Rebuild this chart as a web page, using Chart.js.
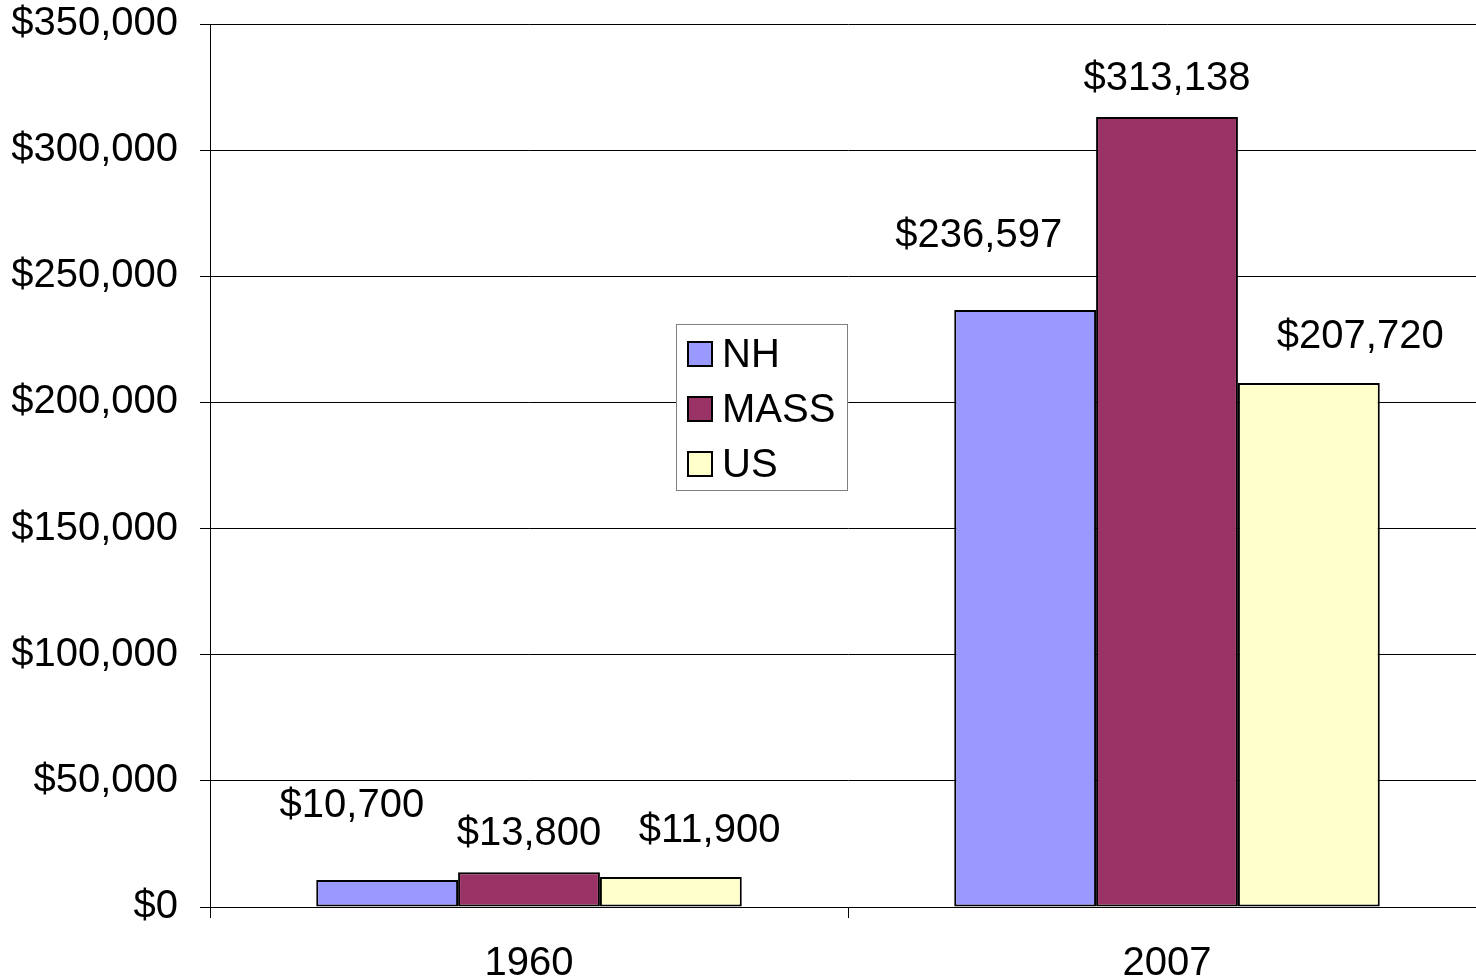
<!DOCTYPE html>
<html>
<head>
<meta charset="utf-8">
<script src="https://cdn.jsdelivr.net/npm/chart.js@4"></script>
<style>
  html, body { margin: 0; padding: 0; background: #fff; overflow: hidden; }
  #wrap { width: 1476px; height: 980px; overflow: hidden; }
</style>
</head>
<body>
<div id="wrap"><canvas id="priceChart" width="1486" height="980"></canvas></div>
<script>
const years = ["1960", "2007"];
const nhValues = [10700, 236597];
const massValues = [13800, 313138];
const usValues = [11900, 207720];
const seriesNames = ["NH", "MASS", "US"];
const seriesColors = ["#9999FF", "#993366", "#FFFFCC"];

const FONT = "'Liberation Sans', Arial, sans-serif";

function money(v) {
  return "$" + v.toLocaleString("en-US");
}

// Excel-style value labels, nudged like the original
const valueLabels = {
  id: "valueLabels",
  afterDatasetsDraw(chart, args, opts) {
    const ctx = chart.ctx;
    ctx.save();
    ctx.font = "40px " + FONT;
    ctx.fillStyle = "#000";
    ctx.textBaseline = "middle";
    chart.data.datasets.forEach((ds, i) => {
      const place = opts.place[i];
      chart.getDatasetMeta(i).data.forEach((bar, j) => {
        ctx.textAlign = place.align;
        ctx.fillText(money(ds.data[j]), bar.x + place.dx, bar.y + place.dy);
      });
    });
    ctx.restore();
  },
};

// boxed legend sitting inside the plot
const boxLegend = {
  id: "boxLegend",
  afterDraw(chart, args, opts) {
    const ctx = chart.ctx;
    ctx.save();
    ctx.fillStyle = "#fff";
    ctx.fillRect(opts.x, opts.y, opts.w, opts.h);
    ctx.strokeStyle = "#808080";
    ctx.lineWidth = 1;
    ctx.strokeRect(opts.x + 0.5, opts.y + 0.5, opts.w, opts.h);
    ctx.font = "40px " + FONT;
    ctx.textBaseline = "middle";
    ctx.textAlign = "left";
    chart.data.datasets.forEach((ds, i) => {
      const cy = opts.y + 30 + i * 55;
      ctx.fillStyle = ds.backgroundColor;
      ctx.fillRect(opts.x + 12, cy - 12, 24, 24);
      ctx.strokeStyle = "#000";
      ctx.lineWidth = 2;
      ctx.strokeRect(opts.x + 12, cy - 12, 24, 24);
      ctx.fillStyle = "#000";
      ctx.fillText(ds.label, opts.x + 46, cy + 2);
    });
    ctx.restore();
  },
};

const ctx = document.getElementById("priceChart").getContext("2d");

window.priceChart = new Chart(ctx, {
  type: "bar",
  data: {
    labels: years,
    datasets: [
      { label: seriesNames[0], data: nhValues, backgroundColor: seriesColors[0] },
      { label: seriesNames[1], data: massValues, backgroundColor: seriesColors[1] },
      { label: seriesNames[2], data: usValues, backgroundColor: seriesColors[2] },
    ].map((d) => ({
      ...d,
      borderColor: "#000",
      borderWidth: 2,
      borderSkipped: false,
      categoryPercentage: 0.667,
      barPercentage: 1.0,
    })),
  },
  plugins: [valueLabels, boxLegend],
  options: {
    responsive: false,
    animation: false,
    devicePixelRatio: 1,
    layout: { padding: { left: 12, top: 24, right: 0, bottom: 0 } },
    plugins: {
      legend: { display: false },
      tooltip: { enabled: false },
      valueLabels: {
        place: [
          { align: "right", dx: 37, dy: -74 },
          { align: "center", dx: 0, dy: -38 },
          { align: "left", dx: -32, dy: -46 },
        ],
      },
      boxLegend: { x: 676, y: 324, w: 171, h: 166 },
    },
    scales: {
      x: {
        offset: true,
        grid: {
          offset: true,
          drawOnChartArea: false,
          color: "#000",
          tickLength: 11,
        },
        border: { color: "#000", width: 1 },
        ticks: {
          color: "#000",
          font: { family: FONT, size: 40 },
          padding: 22,
        },
        afterFit(scale) {
          scale.height = 73;
          scale.paddingLeft = 0;
          scale.paddingRight = 0;
        },
      },
      y: {
        min: 0,
        max: 350000,
        ticks: {
          stepSize: 50000,
          color: "#000",
          font: { family: FONT, size: 40 },
          padding: 22,
          callback: (v) => money(v),
        },
        grid: { color: "#000", lineWidth: 1, tickLength: 10 },
        border: { color: "#000", width: 1 },
        afterFit(scale) {
          scale.width = 198;
          scale.paddingTop = 0;
          scale.paddingBottom = 0;
        },
      },
    },
  },
});
</script>
</body>
</html>
